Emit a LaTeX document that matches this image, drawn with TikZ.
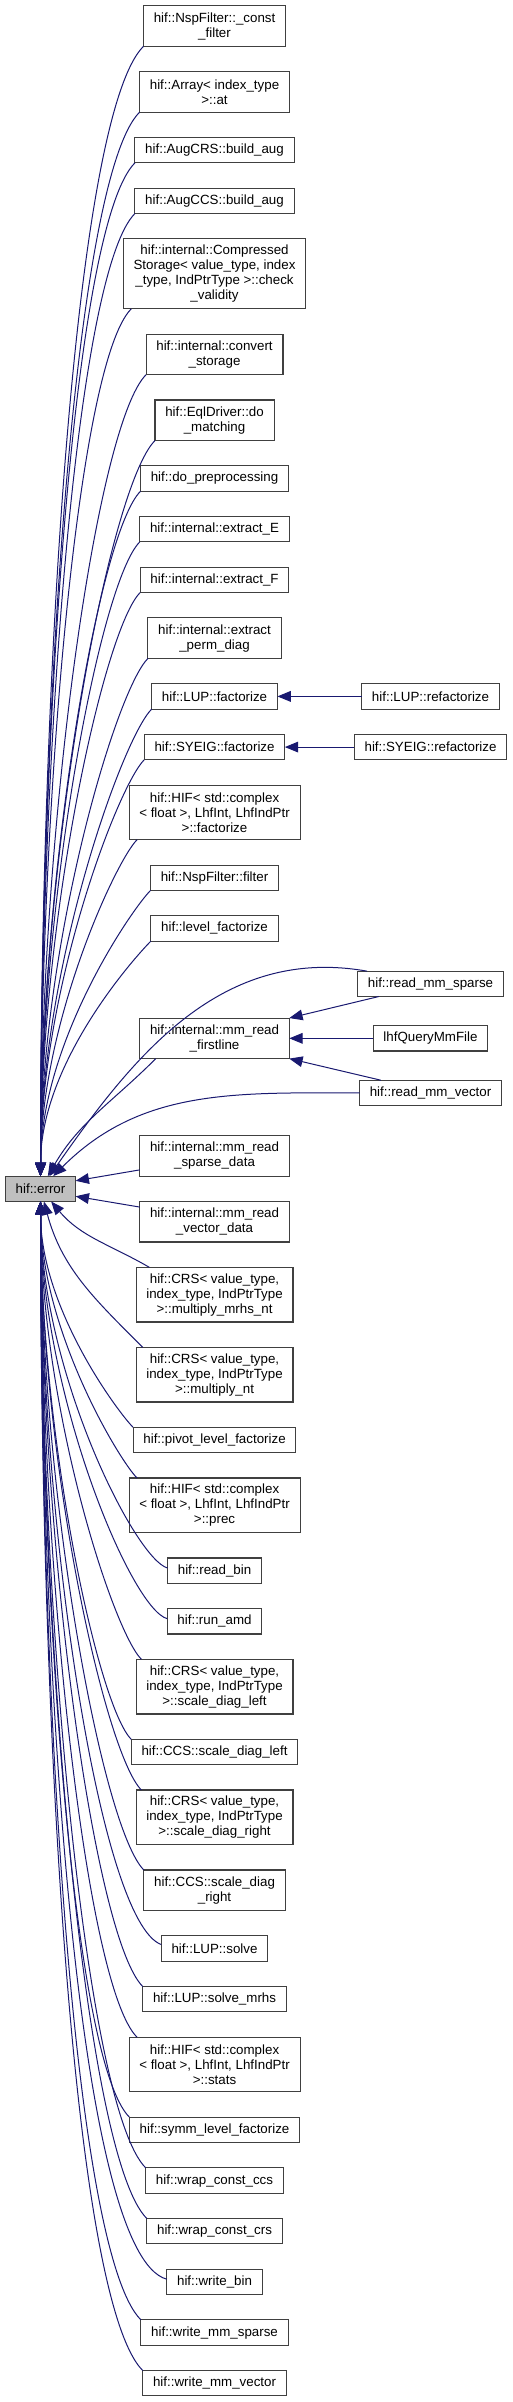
\documentclass[tikz,border=0pt]{standalone}
\usepackage{fontspec}
\setmainfont{Liberation Sans}
\usetikzlibrary{arrows.meta,positioning,calc}
\definecolor{EdgeBlue}{HTML}{191970}
\definecolor{BoxLine}{HTML}{404040}
\definecolor{ErrGray}{HTML}{BFBFBF}

\begin{document}
\begin{tikzpicture}[
  func/.style={rectangle,draw=BoxLine,line width=0.8pt,fill=white,
               font=\fontsize{10}{11.25}\selectfont,align=center,outer sep=0pt,
               inner xsep=7.7pt,inner ysep=2pt,minimum height=19pt},
  lines2/.style={minimum height=30.4pt},
  lines3/.style={minimum height=41pt},
  lines4/.style={minimum height=52.5pt},
  callee/.style={fill=ErrGray},
  call/.style={-{Triangle[length=10pt,width=8pt]},color=EdgeBlue,line width=0.75pt},
  upcurve/.style={out=225,in=90,out looseness=0.22,in looseness=1.12},
  downcurve/.style={out=135,in=-90,out looseness=0.22,in looseness=1.12},
  node distance=19pt
]
\useasboundingbox (0,0) rectangle (384.75pt,-1801.5pt);

\node[func,lines2] (c1) at (160.9pt,-19.5pt) {hif::NspFilter::\_const\\\_filter};
\node[func,lines2,below=of c1] (c2) {hif::Array< index\_type\\>::at};
\node[func,below=of c2] (c3) {hif::AugCRS::build\_aug};
\node[func,below=of c3] (c4) {hif::AugCCS::build\_aug};
\node[func,lines4,below=of c4] (c5) {hif::internal::Compressed\\Storage< value\_type, index\\\_type, IndPtrType >::check\\\_validity};
\node[func,lines2,below=of c5] (c6) {hif::internal::convert\\\_storage};
\node[func,lines2,below=of c6] (c7) {hif::EqlDriver::do\\\_matching};
\node[func,below=of c7] (c8) {hif::do\_preprocessing};
\node[func,below=of c8] (c9) {hif::internal::extract\_E};
\node[func,below=of c9] (c10) {hif::internal::extract\_F};
\node[func,lines2,below=of c10] (c11) {hif::internal::extract\\\_perm\_diag};
\node[func,below=of c11] (c12) {hif::LUP::factorize};
\node[func,below=of c12] (c13) {hif::SYEIG::factorize};
\node[func,lines3,below=of c13] (c14) {hif::HIF< std::complex\\< float >, LhfInt, LhfIndPtr\\>::factorize};
\node[func,below=of c14] (c15) {hif::NspFilter::filter};
\node[func,below=of c15] (c16) {hif::level\_factorize};
\node[func,lines2,below=57.75pt of c16] (c17) {hif::internal::mm\_read\\\_firstline};
\node[func,lines2,below=57.75pt of c17] (c18) {hif::internal::mm\_read\\\_sparse\_data};
\node[func,lines2,below=of c18] (c19) {hif::internal::mm\_read\\\_vector\_data};
\node[func,lines3,below=of c19] (c20) {hif::CRS< value\_type,\\ index\_type, IndPtrType\\ >::multiply\_mrhs\_nt};
\node[func,lines3,below=of c20] (c21) {hif::CRS< value\_type,\\ index\_type, IndPtrType\\ >::multiply\_nt};
\node[func,below=of c21] (c22) {hif::pivot\_level\_factorize};
\node[func,lines3,below=of c22] (c23) {hif::HIF< std::complex\\< float >, LhfInt, LhfIndPtr\\>::prec};
\node[func,below=of c23] (c24) {hif::read\_bin};
\node[func,below=of c24] (c25) {hif::run\_amd};
\node[func,lines3,below=of c25] (c26) {hif::CRS< value\_type,\\ index\_type, IndPtrType\\ >::scale\_diag\_left};
\node[func,below=of c26] (c27) {hif::CCS::scale\_diag\_left};
\node[func,lines3,below=of c27] (c28) {hif::CRS< value\_type,\\ index\_type, IndPtrType\\ >::scale\_diag\_right};
\node[func,lines2,below=of c28] (c29) {hif::CCS::scale\_diag\\\_right};
\node[func,below=of c29] (c30) {hif::LUP::solve};
\node[func,below=of c30] (c31) {hif::LUP::solve\_mrhs};
\node[func,lines3,below=of c31] (c32) {hif::HIF< std::complex\\< float >, LhfInt, LhfIndPtr\\>::stats};
\node[func,below=of c32] (c33) {hif::symm\_level\_factorize};
\node[func,below=of c33] (c34) {hif::wrap\_const\_ccs};
\node[func,below=of c34] (c35) {hif::wrap\_const\_crs};
\node[func,below=of c35] (c36) {hif::write\_bin};
\node[func,below=of c36] (c37) {hif::write\_mm\_sparse};
\node[func,below=of c37] (c38) {hif::write\_mm\_vector};

\node[func] (r1) at ([xshift=162pt]c12) {hif::LUP::refactorize};
\node[func] (r2) at ([xshift=162pt]c13) {hif::SYEIG::refactorize};
\node[func] (r3) at ([xshift=162pt,yshift=40.9pt]c17) {hif::read\_mm\_sparse};
\node[func] (r4) at ([xshift=162pt]c17) {lhfQueryMmFile};
\node[func] (r5) at ([xshift=162pt,yshift=-40.9pt]c17) {hif::read\_mm\_vector};

\node[func,callee] (err) at ($(c18.south)!0.5!(c19.north)+(-130.5pt,0)$) {hif::error};

\draw[call] (c1.south west) to[upcurve] (err);
\draw[call] (c2.south west) to[upcurve] (err);
\draw[call] (c3.south west) to[upcurve] (err);
\draw[call] (c4.south west) to[upcurve] (err);
\draw[call] ([xshift=6pt]c5.south west) to[upcurve] (err);
\draw[call] (c6.south west) to[upcurve] (err);
\draw[call] (c7.south west) to[upcurve] (err);
\draw[call] (c8.south west) to[upcurve] (err);
\draw[call] (c9.south west) to[upcurve] (err);
\draw[call] (c10.south west) to[upcurve] (err);
\draw[call] (c11.south west) to[upcurve] (err);
\draw[call] (c12.south west) to[upcurve] (err);
\draw[call] (c13.south west) to[upcurve] (err);
\draw[call] ([xshift=6pt]c14.south west) to[upcurve] (err);
\draw[call] (c15.south west) to[upcurve] (err);
\draw[call] (c16.south west) to[upcurve] (err);
\draw[call] ([xshift=12pt]c17.south west) to[out=225,in=60] (err);
\draw[call] ([xshift=7pt]r3.north west) to[out=170,in=55] (err);
\draw[call] (r5.west) to[out=180,in=45] (err);
\draw[call] ([yshift=-10.5pt]c18.west) -- ([yshift=6pt]err.east);
\draw[call] ([yshift=11pt]c19.west) -- ([yshift=-5.6pt]err.east);
\draw[call] ([xshift=10pt]c20.north west) to[out=150,in=-50] (err);
\draw[call] ([xshift=5pt]c21.north west) to[out=135,in=-75] (err);
\draw[call] (c22.north west) to[downcurve] (err);
\draw[call] ([xshift=6pt]c23.north west) to[downcurve] (err);
\draw[call] ([yshift=2pt]c24.west) to[downcurve,out=165] (err);
\draw[call] ([yshift=2pt]c25.west) to[downcurve,out=165] (err);
\draw[call] ([xshift=4pt]c26.north west) to[downcurve] (err);
\draw[call] (c27.north west) to[downcurve] (err);
\draw[call] ([xshift=4pt]c28.north west) to[downcurve] (err);
\draw[call] (c29.north west) to[downcurve] (err);
\draw[call] ([yshift=3pt]c30.west) to[downcurve,out=160] (err);
\draw[call] (c31.north west) to[downcurve] (err);
\draw[call] ([xshift=6pt]c32.north west) to[downcurve] (err);
\draw[call] (c33.north west) to[downcurve] (err);
\draw[call] (c34.north west) to[downcurve] (err);
\draw[call] (c35.north west) to[downcurve] (err);
\draw[call] ([yshift=2pt]c36.west) to[downcurve,out=165] (err);
\draw[call] (c37.north west) to[downcurve] (err);
\draw[call] (c38.north west) to[downcurve] (err);

\draw[call] (r1) -- (c12);
\draw[call] (r2) -- (c13);
\draw[call] ([xshift=16pt]r3.south west) -- (c17.north east);
\draw[call] (r4) -- (c17);
\draw[call] ([xshift=16pt]r5.north west) -- (c17.south east);
\end{tikzpicture}
\end{document}
